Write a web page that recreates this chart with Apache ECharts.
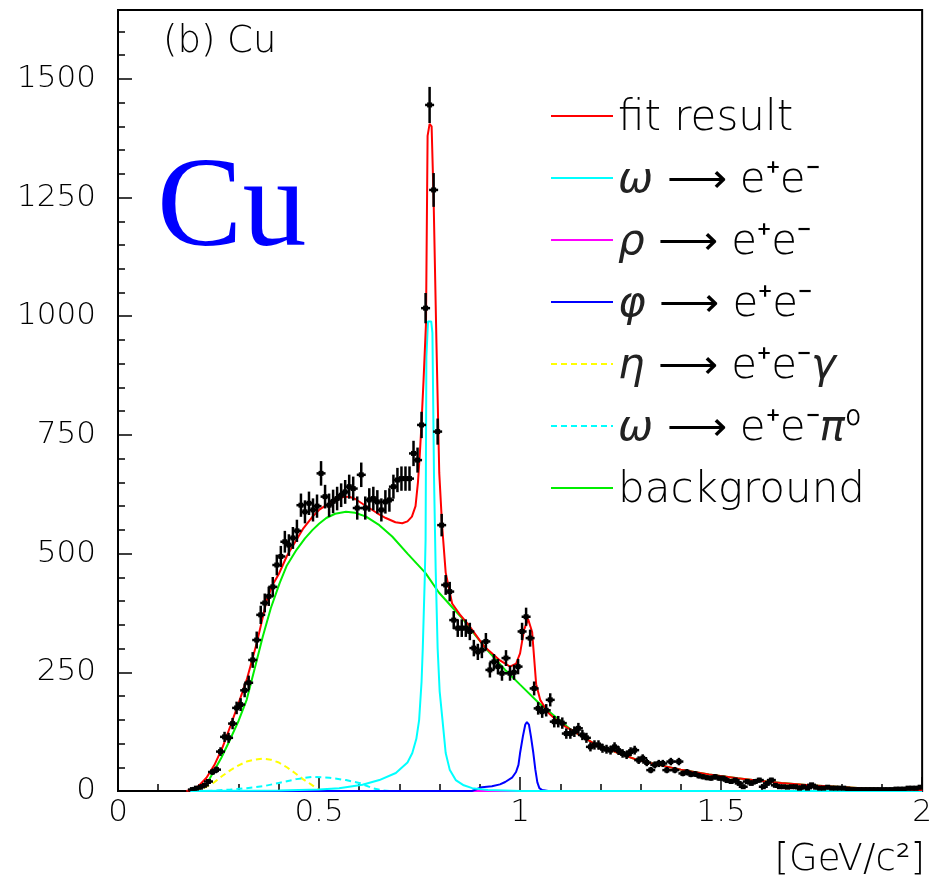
<!DOCTYPE html>
<html><head><meta charset="utf-8">
<script src="https://cdn.jsdelivr.net/npm/echarts@6/dist/echarts.min.js"></script>
<style>html,body{margin:0;padding:0;background:#fff}#c{width:935px;height:884px}</style>
</head><body><div id="c"></div>
<script>
// ---- data: measured histogram (counts per 0.01 GeV/c^2 bin starting at 0.18) ----
const binLow = 0.18;
const binWidth = 0.01;
const counts = [
  3,6,8,12,20,40,45,83,114,112,
  142,175,182,212,228,276,318,371,396,410,
  430,476,494,525,518,533,548,602,588,606,
  592,600,669,620,602,610,616,623,630,641,
  637,596,666,596,613,616,609,592,609,613,
  641,655,658,658,658,711,697,771,1017,1445,
  1266,757,560,434,420,360,343,343,343,336,
  301,293,297,315,255,272,262,248,280,248,
  250,262,336,367,322,216,174,167,170,192,
  146,146,143,121,121,125,132,118,112,93,
  97,97,90,88,86,93,85,79,76,83,
  86,65,69,60,44,55,58,58,44,62,
  44,62,37,40,35,36,32,30,28,27,
  30,27,27,22,20,23,16,9,20,16,
  20,23,9,16,23,12,9,9,8,9,
  9,6,9,6,13,8,6,6,8,6,
  6,6,6,4,3,3,3,3,3,3,
  3,3,3,3,3,4,4,4,6,6,
  6,8
];

// ---- fit result (red) ----
const fitX = [0.17,0.18,0.20,0.22,0.24,0.26,0.28,0.30,0.32,0.345,0.37,0.385,0.40,0.42,0.444,0.46,0.484,0.50,0.52,0.54,0.56,0.575,0.59,0.61,0.625,0.645,0.666,0.69,0.707,0.72,0.731,0.74,0.746,0.750,0.754,0.760,0.766,0.770,0.775,0.780,0.785,0.792,0.799,0.806,0.815,0.831,0.85,0.87,0.889,0.91,0.93,0.95,0.975,0.99,1.0,1.01,1.02,1.03,1.04,1.05,1.07,1.10,1.128,1.18,1.244,1.293,1.35,1.40,1.47,1.541,1.6,1.65,1.72,1.788,1.85,1.9,1.95,1.986,2.0];
const fitY = [0,2,10,28,55,92,138,185,234,311,402,435,457,495,529,552,578,592,603,612,619,620,615,604,596,585,575,566,564,568,578,600,650,700,760,866,985,1380,1405,1400,1245,944,670,560,460,395,372,352,330,305,290,275,262,268,290,340,362,335,225,192,165,142,128,102,80,65,54,45,35,27,21,17,12,9,6,4,3,2,2];

// ---- omega -> e+e- (cyan) ----
const omegaX = [0.18,0.40,0.50,0.55,0.608,0.650,0.691,0.72,0.732,0.742,0.749,0.755,0.758,0.763,0.765,0.767,0.771,0.779,0.782,0.786,0.790,0.795,0.800,0.807,0.815,0.825,0.840,0.86,0.881,0.92,1.0,2.0];
const omegaY = [0,1,3,6,13,23,38,60,80,110,150,230,300,450,529,915,989,989,965,660,470,300,210,150,80,45,23,12,6,2,0,0];

// ---- rho -> e+e- (magenta) ----
const rhoX = [0.28,2.0];
const rhoY = [0,0];

// ---- phi -> e+e- (blue) ----
const phiX = [0.18,0.88,0.905,0.93,0.95,0.963,0.98,0.99,0.996,1.0,1.007,1.013,1.017,1.022,1.027,1.033,1.038,1.043,1.048,1.055,1.07,2.0];
const phiY = [0,0,8,10,14,19,28,40,55,80,115,140,145,140,115,80,45,18,6,2,0,0];

// ---- eta -> e+e-gamma (yellow dashed) ----
const etaX = [0.19,0.204,0.237,0.26,0.28,0.30,0.32,0.34,0.36,0.38,0.40,0.42,0.44,0.46,0.48,0.50,0.52,1.8];
const etaY = [0,2,17,32,44,54,62,66,68,66,60,50,38,25,14,2,0,0];

// ---- omega -> e+e-pi0 (cyan dashed) ----
const dalitzX = [0.22,0.28,0.32,0.361,0.40,0.444,0.485,0.526,0.567,0.60,0.633,0.66,0.68,2.0];
const dalitzY = [0,3,6,10,17,25,30,28,23,17,6,1,0,0];

// ---- background (green) ----
const bgX = [0.19,0.20,0.221,0.236,0.257,0.278,0.30,0.320,0.34,0.360,0.38,0.402,0.42,0.444,0.465,0.484,0.50,0.518,0.54,0.567,0.59,0.617,0.65,0.682,0.72,0.765,0.798,0.830,0.86,0.881,0.92,0.963,1.0,1.046,1.09,1.128,1.18,1.244,1.293,1.35,1.40,1.47,1.541,1.6,1.65,1.72,1.788,1.85,1.9,1.95,1.986,2.0];
const bgY = [0,2,16,38,70,107,148,192,258,325,385,438,475,508,532,550,563,575,584,588,586,578,560,536,500,459,418,388,360,336,295,255,224,186,155,128,102,80,65,54,45,35,27,21,17,12,9,6,4,3,2,2];

// ---- axes / labels ----
const xTicks = [0, 0.5, 1, 1.5, 2];
const yTicks = [0, 250, 500, 750, 1000, 1250, 1500];
const legendNames = ['fit result','omega_ee','rho_ee','phi_ee','eta_dalitz','omega_dalitz','background'];
const legendLabels = {
  'fit result': 'fit result',
  'omega_ee': '{g|ω} ⟶ e⁺e⁻',
  'rho_ee': '{g|ρ} ⟶ e⁺e⁻',
  'phi_ee': '{g|φ} ⟶ e⁺e⁻',
  'eta_dalitz': '{g|η} ⟶ e⁺e⁻{g|γ}',
  'omega_dalitz': '{g|ω} ⟶ e⁺e⁻{g|π}⁰',
  'background': 'background'
};

const zip = (xs, ys) => xs.map((x, i) => [x, ys[i]]);
const points = counts.map((n, i) => [+(binLow + binWidth * (i + 0.5)).toFixed(3), n, Math.sqrt(n)]);

const FONT = 'DejaVu Sans';
const YMAX = 1645;
const chart = echarts.init(document.getElementById('c'), null, {renderer: 'canvas'});

function lineSeries(name, xs, ys, color, dashed, z) {
  return {
    name, type: 'line', data: zip(xs, ys), symbol: 'none', showSymbol: false, smooth: false, z: z,
    lineStyle: {color, width: 2, type: dashed ? [6, 4] : 'solid'},
    itemStyle: {color}, emphasis: {disabled: true}, silent: true, clip: true
  };
}

chart.setOption({
  animation: false,
  backgroundColor: '#fff',
  grid: {left: 118, right: 9, top: 10, bottom: 93, show: true, borderColor: '#000', borderWidth: 2, backgroundColor: 'transparent'},
  xAxis: {
    type: 'value', min: 0, max: 2, interval: 0.5,
    axisLine: {show: true, onZero: false, lineStyle: {color: '#000', width: 2}},
    axisTick: {show: true, inside: true, length: 14, lineStyle: {color: '#000', width: 1.5}},
    minorTick: {show: true, splitNumber: 5, length: 7, lineStyle: {color: '#000', width: 1.5}},
    splitLine: {show: false},
    axisLabel: {margin: 6, fontSize: 31, fontFamily: FONT, fontWeight: 'lighter', color: '#000',
      formatter: v => xTicks.includes(v) ? String(v) : ''}
  },
  yAxis: [{
    type: 'value', min: 0, max: YMAX, interval: 250, position: 'left',
    axisLine: {show: true, onZero: false, lineStyle: {color: '#000', width: 2}},
    axisTick: {show: true, inside: true, length: 14, lineStyle: {color: '#000', width: 1.5}},
    splitLine: {show: false},
    axisLabel: {margin: 22, fontSize: 31, fontFamily: FONT, fontWeight: 'lighter', color: '#000', showMaxLabel: false,
      formatter: v => yTicks.includes(v) ? String(v) : ''}
  }, {
    type: 'value', min: 0, max: YMAX, interval: 50, position: 'left', offset: 0,
    axisLine: {show: false},
    axisTick: {show: true, inside: true, length: 7, lineStyle: {color: '#000', width: 1.5}},
    splitLine: {show: false},
    axisLabel: {show: false}
  }],
  legend: {
    left: 550, top: 92, orient: 'vertical', padding: 0,
    itemWidth: 62, itemHeight: 12, itemGap: 14,
    data: legendNames,
    selectedMode: false,
    itemStyle: {opacity: 0},
    formatter: name => legendLabels[name],
    textStyle: {fontSize: 42, lineHeight: 42, fontFamily: FONT, fontWeight: 'lighter', color: '#000', padding: [6, 0, 0, 0],
      rich: {g: {fontSize: 42, lineHeight: 42, fontFamily: FONT, fontWeight: 'normal', fontStyle: 'italic', color: '#222'}}}
  },
  graphic: [
    {type: 'text', left: 163, top: 24, z: 10, style: {text: '(b) Cu', font: 'lighter 37px "DejaVu Sans"', fill: '#000'}},
    {type: 'text', left: 157, top: 147, z: 10, style: {text: 'Cu', font: '128px "Liberation Serif"', fill: '#0000ff'}},
    {type: 'text', right: 10, top: 842, z: 10, style: {text: '[GeV/c²]', font: 'lighter 37px "DejaVu Sans"', fill: '#000'}}
  ],
  series: [
    lineSeries('background', bgX, bgY, '#00ee00', false, 2),
    lineSeries('eta_dalitz', etaX, etaY, '#ffff00', true, 2),
    lineSeries('omega_dalitz', dalitzX, dalitzY, '#00ffff', true, 2),
    lineSeries('rho_ee', rhoX, rhoY, '#ff00ff', false, 2),
    lineSeries('phi_ee', phiX, phiY, '#0000ff', false, 2),
    lineSeries('omega_ee', omegaX, omegaY, '#00ffff', false, 2),
    lineSeries('fit result', fitX, fitY, '#ff0000', false, 3),
    {
      name: 'data', type: 'custom', z: 5, clip: true, silent: true,
      data: points, encode: {x: 0, y: 1},
      renderItem: (params, api) => {
        const x = api.value(0), y = api.value(1), e = api.value(2);
        const c = api.coord([x, y]);
        const t = api.coord([x, y + e]);
        const b = api.coord([x, Math.max(0, y - e)]);
        return {type: 'group', children: [
          {type: 'line', shape: {x1: c[0], y1: t[1], x2: c[0], y2: b[1]}, style: {stroke: '#000', lineWidth: 2.5}},
          {type: 'line', shape: {x1: c[0] - 4.5, y1: c[1], x2: c[0] + 4.5, y2: c[1]}, style: {stroke: '#000', lineWidth: 2.5}},
          {type: 'rect', shape: {x: c[0] - 2.5, y: c[1] - 2.5, width: 5, height: 5}, style: {fill: '#000'}}
        ]};
      }
    }
  ]
});
</script></body></html>
